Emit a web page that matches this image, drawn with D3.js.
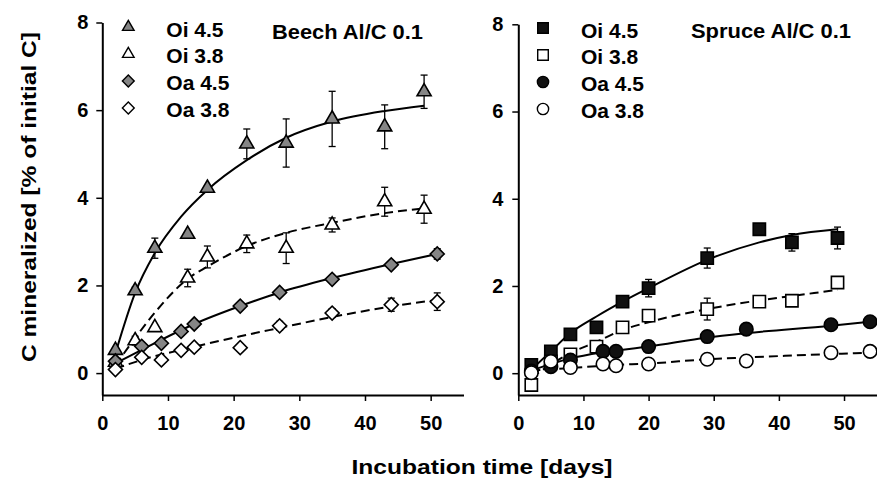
<!DOCTYPE html>
<html>
<head>
<meta charset="utf-8">
<script src="https://cdn.jsdelivr.net/npm/d3@7"></script>
<style>
  body { margin: 0; background: #fff; }
  text { font-family: "Liberation Sans", Arial, sans-serif; font-weight: bold; fill: #000; }
</style>
</head>
<body>
<div id="chart"></div>
<script>
// ---- values ----
const xTicks = [0, 10, 20, 30, 40, 50];
const yTicks = [0, 2, 4, 6, 8];
const seriesNames = ["Oi 4.5", "Oi 3.8", "Oa 4.5", "Oa 3.8"];

// Beech panel
const beechOiDays = [2, 5, 8, 13, 16, 22, 28, 35, 43, 49];
const beechOi45 = [0.52, 1.88, 2.85, 3.17, 4.22, 5.23, 5.25, 5.8, 5.62, 6.42];
const beechOi45Err = [0, 0.08, 0.23, 0, 0.05, 0.34, 0.55, 0.63, 0.5, 0.38];
const beechOi38 = [0.25, 0.74, 1.04, 2.17, 2.65, 2.95, 2.85, 3.38, 3.91, 3.74];
const beechOi38Err = [0, 0.1, 0, 0.2, 0.25, 0.2, 0.35, 0.16, 0.33, 0.32];
const beechOaDays = [2, 6, 9, 12, 14, 21, 27, 35, 44, 51];
const beechOa45 = [0.27, 0.61, 0.68, 0.95, 1.12, 1.53, 1.84, 2.14, 2.47, 2.72];
const beechOa45Err = [0, 0, 0, 0, 0, 0, 0, 0, 0.05, 0.12];
const beechOa38 = [0.08, 0.36, 0.30, 0.52, 0.59, 0.58, 1.08, 1.37, 1.56, 1.63];
const beechOa38Err = [0, 0, 0, 0, 0, 0, 0.1, 0.1, 0.15, 0.2];

// Beech fitted curves
const beechFitOi45Days = [2, 5, 8, 12, 16, 22, 28, 35, 43, 49];
const beechFitOi45 = [0.45, 1.83, 2.74, 3.57, 4.18, 4.86, 5.37, 5.74, 5.98, 6.1];
const beechFitOi38Days = [2, 5, 8, 13, 16, 22, 28, 35, 43, 49];
const beechFitOi38 = [0.18, 0.8, 1.38, 2.15, 2.43, 2.9, 3.2, 3.43, 3.65, 3.76];
const beechFitOaDays = [2, 6, 14, 21, 27, 35, 44, 51];
const beechFitOa45 = [0.22, 0.53, 1.12, 1.53, 1.84, 2.17, 2.49, 2.72];
const beechFitOa38 = [0.1, 0.3, 0.6, 0.84, 1.03, 1.28, 1.52, 1.67];

// Spruce panel
const spruceOiDays = [2, 5, 8, 12, 16, 20, 29, 37, 42, 49];
const spruceOi45 = [0.19, 0.5, 0.89, 1.05, 1.64, 1.95, 2.64, 3.3, 3.0, 3.1];
const spruceOi45Err = [0, 0, 0, 0, 0, 0.2, 0.23, 0, 0.2, 0.25];
const spruceOi38 = [-0.27, 0.27, 0.43, 0.61, 1.05, 1.32, 1.47, 1.64, 1.66, 2.08];
const spruceOi38Err = [0, 0, 0, 0, 0, 0, 0.25, 0, 0, 0];
const spruceOaDays = [2, 5, 8, 13, 15, 20, 29, 35, 48, 54];
const spruceOa45 = [0.05, 0.15, 0.3, 0.5, 0.5, 0.61, 0.84, 1.01, 1.11, 1.18];
const spruceOa45Err = [0, 0, 0, 0, 0, 0, 0, 0, 0, 0.12];
const spruceOa38 = [0.01, 0.27, 0.13, 0.21, 0.17, 0.21, 0.32, 0.28, 0.47, 0.5];
const spruceOa38Err = [0, 0, 0, 0, 0, 0, 0, 0, 0, 0];

// Spruce fitted curves
const spruceFitOi45Days = [2, 5, 8, 12, 16, 20, 29, 37, 42, 49];
const spruceFitOi45 = [0.08, 0.5, 0.92, 1.3, 1.64, 1.95, 2.6, 3.0, 3.17, 3.3];
const spruceFitOi38Days = [2, 8, 12, 16, 20, 29, 37, 42, 49];
const spruceFitOi38 = [-0.1, 0.46, 0.72, 0.99, 1.17, 1.47, 1.67, 1.77, 1.91];
const spruceFitOa45Days = [2, 8, 13, 20, 29, 35, 48, 54];
const spruceFitOa45 = [0.06, 0.34, 0.48, 0.61, 0.82, 0.92, 1.09, 1.18];
const spruceFitOa38Days = [2, 8, 15, 20, 29, 35, 48, 54];
const spruceFitOa38 = [0.06, 0.12, 0.19, 0.22, 0.32, 0.36, 0.44, 0.47];

const width = 877, height = 480;
const gray = "#858585";

const svg = d3.select("#chart").append("svg")
  .attr("width", width)
  .attr("height", height);

function zip(xs, ys, es) {
  return xs.map((x, i) => ({ x: x, y: ys[i], e: es ? es[i] : 0 }));
}

// marker shapes
const shapes = {
  triangle: { type: d3.symbolTriangle, size: 86, legendSize: 58, rot: 0 },
  diamond: { type: d3.symbolSquare, size: 98, legendSize: 70, rot: 45 },
  square: { type: d3.symbolSquare, size: 150, legendSize: 112, rot: 0 },
  circle: { type: d3.symbolCircle, size: 142, legendSize: 100, rot: 0 }
};

function drawPanel(p) {
  const x = d3.scaleLinear().domain([0, 55]).range(p.xRange);
  const y = d3.scaleLinear().domain([-0.5, 8]).range([395, p.yTop]);
  const g = svg.append("g");

  // axes
  const xAxis = g.append("g")
    .attr("transform", `translate(0,395)`)
    .call(d3.axisBottom(x).tickValues(xTicks).tickSize(6).tickPadding(15).tickSizeOuter(0));
  const yAxis = g.append("g")
    .attr("transform", `translate(${p.xRange[0]},0)`)
    .call(d3.axisLeft(y).tickValues(yTicks).tickSize(6).tickPadding(p.yPad).tickSizeOuter(0));
  [xAxis, yAxis].forEach(a => {
    a.select(".domain").attr("stroke", "#000").attr("stroke-width", 2);
    a.selectAll(".tick line").attr("stroke", "#000").attr("stroke-width", 1.5);
    a.selectAll("text").style("font-size", "20px").attr("fill", "#000");
  });
  xAxis.selectAll("text").attr("dy", "0.71em");

  const line = d3.line().x(d => x(d.x)).y(d => y(d.y)).curve(d3.curveMonotoneX);

  // fitted curves
  p.fits.forEach(f => {
    g.append("path")
      .datum(zip(f.days, f.vals))
      .attr("d", line)
      .attr("fill", "none")
      .attr("stroke", "#000")
      .attr("stroke-width", 2)
      .attr("stroke-dasharray", f.dashed ? "9,5" : null);
  });

  // error bars + markers
  p.series.forEach(s => {
    const pts = zip(s.days, s.vals, s.err);
    const eb = g.append("g");
    pts.filter(d => d.e > 0).forEach(d => {
      eb.append("line").attr("x1", x(d.x)).attr("x2", x(d.x))
        .attr("y1", y(d.y - d.e)).attr("y2", y(d.y + d.e))
        .attr("stroke", "#000").attr("stroke-width", 1.3);
      [d.y - d.e, d.y + d.e].forEach(v => {
        eb.append("line").attr("x1", x(d.x) - 3.5).attr("x2", x(d.x) + 3.5)
          .attr("y1", y(v)).attr("y2", y(v))
          .attr("stroke", "#000").attr("stroke-width", 1.3);
      });
    });
    const sh = shapes[s.shape];
    g.selectAll(null).data(pts).enter().append("path")
      .attr("d", d3.symbol().type(sh.type).size(sh.size))
      .attr("transform", d => `translate(${x(d.x)},${y(d.y)}) rotate(${sh.rot})`)
      .attr("fill", s.fill)
      .attr("stroke", "#000")
      .attr("stroke-width", 1.6);
  });

  // legend
  p.series.forEach((s, i) => {
    const sh = shapes[s.shape];
    g.append("path")
      .attr("d", d3.symbol().type(sh.type).size(sh.legendSize))
      .attr("transform", `translate(${p.legX},${p.legY + i * 27}) rotate(${sh.rot})`)
      .attr("fill", s.fill)
      .attr("stroke", "#000")
      .attr("stroke-width", 1.4);
    g.append("text")
      .attr("x", p.legX + 38)
      .attr("y", p.legY + 9.5 + i * 26.7)
      .style("font-size", "21px")
      .text(seriesNames[i]);
  });

  g.append("text")
    .attr("x", p.titleX)
    .attr("y", p.titleY)
    .attr("textLength", p.titleW)
    .attr("lengthAdjust", "spacingAndGlyphs")
    .style("font-size", "21px")
    .text(p.title);
}

drawPanel({
  xRange: [102.3, 463.5], yTop: 22.5, yPad: 8,
  legX: 128.3, legY: 27, title: "Beech Al/C 0.1", titleX: 272, titleY: 39.3, titleW: 151,
  series: [
    { days: beechOiDays, vals: beechOi45, err: beechOi45Err, shape: "triangle", fill: gray },
    { days: beechOiDays, vals: beechOi38, err: beechOi38Err, shape: "triangle", fill: "#fff" },
    { days: beechOaDays, vals: beechOa45, err: beechOa45Err, shape: "diamond", fill: gray },
    { days: beechOaDays, vals: beechOa38, err: beechOa38Err, shape: "diamond", fill: "#fff" }
  ],
  fits: [
    { days: beechFitOi45Days, vals: beechFitOi45, dashed: false },
    { days: beechFitOi38Days, vals: beechFitOi38, dashed: true },
    { days: beechFitOaDays, vals: beechFitOa45, dashed: false },
    { days: beechFitOaDays, vals: beechFitOa38, dashed: true }
  ]
});

drawPanel({
  xRange: [518.3, 876.6], yTop: 24.3, yPad: 9,
  legX: 543, legY: 28, title: "Spruce Al/C 0.1", titleX: 691, titleY: 37.5, titleW: 160,
  series: [
    { days: spruceOiDays, vals: spruceOi45, err: spruceOi45Err, shape: "square", fill: "#111" },
    { days: spruceOiDays, vals: spruceOi38, err: spruceOi38Err, shape: "square", fill: "#fff" },
    { days: spruceOaDays, vals: spruceOa45, err: spruceOa45Err, shape: "circle", fill: "#111" },
    { days: spruceOaDays, vals: spruceOa38, err: spruceOa38Err, shape: "circle", fill: "#fff" }
  ],
  fits: [
    { days: spruceFitOi45Days, vals: spruceFitOi45, dashed: false },
    { days: spruceFitOi38Days, vals: spruceFitOi38, dashed: true },
    { days: spruceFitOa45Days, vals: spruceFitOa45, dashed: false },
    { days: spruceFitOa38Days, vals: spruceFitOa38, dashed: true }
  ]
});

// axis titles
svg.append("text")
  .attr("transform", "translate(36,197) rotate(-90)")
  .attr("text-anchor", "middle")
  .attr("textLength", 330)
  .attr("lengthAdjust", "spacingAndGlyphs")
  .style("font-size", "21px")
  .text("C mineralized [% of initial C]");

svg.append("text")
  .attr("x", 482)
  .attr("y", 474)
  .attr("text-anchor", "middle")
  .attr("textLength", 261)
  .attr("lengthAdjust", "spacingAndGlyphs")
  .style("font-size", "21px")
  .text("Incubation time [days]");
</script>
</body>
</html>
